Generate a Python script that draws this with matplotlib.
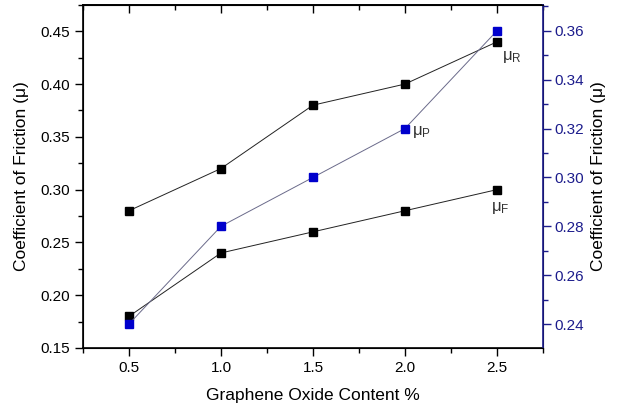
import numpy as np
import matplotlib as mpl
mpl.use('Agg')
import matplotlib.pyplot as plt
from matplotlib.ticker import MultipleLocator, FormatStrFormatter, NullFormatter

# data
go_content = [0.5, 1.0, 1.5, 2.0, 2.5]
mu_R = [0.28, 0.32, 0.38, 0.40, 0.44]
mu_F = [0.18, 0.24, 0.26, 0.28, 0.30]
mu_P = [0.24, 0.28, 0.30, 0.32, 0.36]

plt.rc('font', family=['Liberation Sans', 'DejaVu Sans'], size=11)

fig = plt.figure(figsize=(6.17, 4.07), dpi=100)
ax = fig.add_axes([0.1345, 0.145, 0.880 - 0.1345, 0.988 - 0.145])
ax2 = ax.twinx()

line_kw = dict(lw=0.7, marker='s', ms=5.5)
ax.plot(go_content, mu_R, color='#222222', mfc='black', mec='black', **line_kw)
ax.plot(go_content, mu_F, color='#222222', mfc='black', mec='black', **line_kw)
ax2.plot(go_content, mu_P, color='#6a6a8a', mfc='#0000cc', mec='#0000cc', **line_kw)

ax.set_xlim(0.25, 2.75)
ax.set_ylim(0.15, 0.475)
ax2.set_ylim(0.2302, 0.3706)

ax.xaxis.set_major_locator(MultipleLocator(0.5))
ax.xaxis.set_minor_locator(MultipleLocator(0.25))
ax.yaxis.set_major_locator(MultipleLocator(0.05))
ax.yaxis.set_minor_locator(MultipleLocator(0.025))
ax2.yaxis.set_major_locator(MultipleLocator(0.02))
ax2.yaxis.set_minor_locator(MultipleLocator(0.01))

ax.tick_params(axis='both', which='major', direction='out', length=6, width=1, labelsize=11)
ax.tick_params(axis='both', which='minor', direction='out', length=3.5, width=1)
ax.xaxis.set_major_formatter(FormatStrFormatter('%.1f'))
ax.yaxis.set_major_formatter(FormatStrFormatter('%.2f'))
ax2.yaxis.set_major_formatter(FormatStrFormatter('%.2f'))

# top axis: ticks pointing inward, no labels
top = ax.secondary_xaxis('top')
top.xaxis.set_major_locator(MultipleLocator(0.5))
top.xaxis.set_minor_locator(MultipleLocator(0.25))
top.xaxis.set_major_formatter(NullFormatter())
top.tick_params(which='major', direction='in', length=6, width=1)
top.tick_params(which='minor', direction='in', length=3.5, width=1)
top.spines['top'].set_linewidth(1.2)

navy = '#1c1c8c'
ax2.spines['right'].set_color(navy)
ax2.spines['right'].set_linewidth(1.2)
ax2.tick_params(axis='y', which='major', direction='out', length=6, width=1,
                colors=navy, labelsize=11, pad=2)
ax2.tick_params(axis='y', which='minor', direction='out', length=3.5, width=1, colors=navy)
for s in ['left', 'bottom', 'top']:
    ax.spines[s].set_linewidth(1.2)

ax.set_xlabel('Graphene Oxide Content %', fontsize=12.5, labelpad=9)
ax.set_ylabel('Coefficient of Friction (\u03bc)', fontsize=12.5, labelpad=8)
ax2.set_ylabel('Coefficient of Friction (\u03bc)', fontsize=12.5, labelpad=5)

ax.text(2.53, 0.423, r'$\mathregular{\mu_R}$', fontsize=12, color='#333333')
ax.text(2.04, 0.352, r'$\mathregular{\mu_P}$', fontsize=12, color='#333333')
ax.text(2.47, 0.280, r'$\mathregular{\mu_F}$', fontsize=12, color='#333333')

fig.savefig('out.png', dpi=100)
plt.close('all')
